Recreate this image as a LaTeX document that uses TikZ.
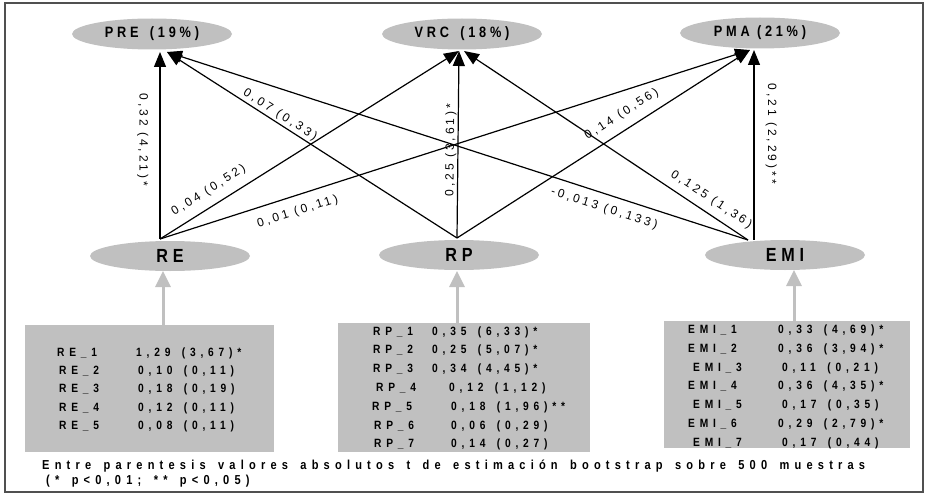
\documentclass[tikz,border=0pt]{standalone}
\usepackage{fontspec}
\setmainfont{Liberation Sans}
\usetikzlibrary{arrows.meta,shapes.geometric}
\newfontfamily\nodefnt[LetterSpace=25,FakeStretch=0.85]{Liberation Sans}
\newfontfamily\boxfnt[LetterSpace=40,FakeStretch=0.85]{Liberation Sans}
\newfontfamily\footfnt[LetterSpace=40,FakeStretch=0.85,WordSpace=1.5]{Liberation Sans}
\newfontfamily\lblfnt[LetterSpace=25]{Liberation Sans}
\definecolor{fillgray}{RGB}{192,192,192}
\definecolor{framecol}{RGB}{80,80,80}
\tikzset{
  topell/.style={ellipse, fill=fillgray, minimum width=160pt, minimum height=31pt, inner sep=0pt, font=\nodefnt\bfseries\fontsize{15pt}{15pt}\selectfont},
  botell/.style={ellipse, fill=fillgray, minimum width=160pt, minimum height=30pt, inner sep=0pt, font=\nodefnt\bfseries\fontsize{19pt}{19pt}\selectfont},
  pathA/.style={draw, line width=1.2pt, -{Triangle[length=15pt,width=12pt]}},
  pathR/.style={draw, line width=1.2pt, {Triangle[length=15pt,width=12pt]}-},
  garrow/.style={draw=fillgray, line width=3pt, -{Triangle[length=16pt,width=15pt]}},
  lbl/.style={font=\lblfnt\fontsize{12pt}{12pt}\selectfont, inner sep=1pt, sloped},
  boxst/.style={fill=fillgray, inner sep=0pt, anchor=north west},
  btxt/.style={font=\boxfnt\bfseries\fontsize{12pt}{12pt}\selectfont, inner sep=0pt, anchor=base west},
  ftxt/.style={font=\footfnt\bfseries\fontsize{13pt}{13pt}\selectfont, inner sep=0pt, anchor=base west}
}
\begin{document}
\begin{tikzpicture}[x=1pt,y=-1pt]
\useasboundingbox (0,0) rectangle (927,495);
\draw[line width=1.5pt, framecol] (5,3) rectangle (923,492);

% construct nodes
\node[topell] (PRE) at (152,34) {PRE\hspace{4pt} (19\%)};
\node[topell] (VRC) at (462,34) {VRC\hspace{4pt} (18\%)};
\node[topell] (PMA) at (760,33) {PMA (21\%)};
\node[botell] (RE) at (170,256) {RE};
\node[botell] (RP) at (459,255) {RP};
\node[botell] (EMI) at (785,255) {EMI};

% connection points
\coordinate (reS) at (160,239);
\coordinate (rpS) at (457,238);
\coordinate (emiS) at (748,240);
\coordinate (emiV) at (754,240);
\coordinate (preV) at (160,52);
\coordinate (preD) at (167,52);
\coordinate (vrcL) at (459,51);
\coordinate (vrcV) at (459,51);
\coordinate (vrcR) at (464,51);
\coordinate (pmaD) at (750,50);
\coordinate (pmaV) at (754,50);

% paths
\draw[pathR] (preV) -- node[lbl, below=10pt, pos=0.47] {0,32 (4,21)*} (reS);
\draw[pathR] (preD) -- node[lbl, above=1pt, pos=0.375] {0,07 (0,33)} (rpS);
\draw[pathR] (preD) -- node[lbl, below=7pt, pos=0.76] {-0,013 (0,133)} (emiS);
\draw[pathA] (reS) -- node[lbl, above=8pt, pos=0.19] {0,04 (0,52)} (vrcL);
\draw[pathR] (vrcV) -- node[lbl, above=0pt, pos=0.53] {0,25 (3,61)*} (rpS);
\draw[pathR] (vrcR) -- node[lbl, above=6pt, pos=0.845] {0,125 (1,36)} (emiS);
\draw[pathA] (reS) -- node[lbl, below=9pt, pos=0.225] {0,01 (0,11)} (pmaD);
\draw[pathA] (rpS) -- node[lbl, above=8pt, pos=0.59] {0,14 (0,56)} (pmaD);
\draw[pathR] (pmaV) -- node[lbl, above=10pt, pos=0.44] {0,21 (2,29)**} (emiV);

% indicator boxes
\node[boxst, minimum width=249pt, minimum height=127pt] (rebox) at (25,325) {};
\node[boxst, minimum width=252pt, minimum height=129pt] (rpbox) at (338,323) {};
\node[boxst, minimum width=246pt, minimum height=127pt] (emibox) at (664,321) {};

\coordinate (reIn) at (163,271);
\coordinate (rpIn) at (457,271);
\coordinate (emiIn) at (794,270);
\draw[garrow] (reIn |- rebox.north) -- (reIn);
\draw[garrow] (rpIn |- rpbox.north) -- (rpIn);
\draw[garrow] (emiIn |- emibox.north) -- (emiIn);

% RE box rows
\node[btxt] (re1a) at (57,356) {RE\_1};  \node[btxt] (re1b) at (136,356) {1,29 (3,67)*};
\node[btxt] (re2a) at (59,374) {RE\_2};  \node[btxt] (re2b) at (138,374) {0,10 (0,11)};
\node[btxt] (re3a) at (59,392) {RE\_3};  \node[btxt] (re3b) at (138,392) {0,18 (0,19)};
\node[btxt] (re4a) at (59,411) {RE\_4};  \node[btxt] (re4b) at (138,411) {0,12 (0,11)};
\node[btxt] (re5a) at (59,429) {RE\_5};  \node[btxt] (re5b) at (138,429) {0,08 (0,11)};

% RP box rows
\node[btxt] (rp1a) at (373,335) {RP\_1};  \node[btxt] (rp1b) at (432,335) {0,35 (6,33)*};
\node[btxt] (rp2a) at (373,353) {RP\_2};  \node[btxt] (rp2b) at (432,353) {0,25 (5,07)*};
\node[btxt] (rp3a) at (373,372) {RP\_3};  \node[btxt] (rp3b) at (432,372) {0,34 (4,45)*};
\node[btxt] (rp4a) at (376,391) {RP\_4};  \node[btxt] (rp4b) at (449,391) {0,12 (1,12)};
\node[btxt] (rp5a) at (372,410) {RP\_5};  \node[btxt] (rp5b) at (451,410) {0,18 (1,96)**};
\node[btxt] (rp6a) at (374,429) {RP\_6};  \node[btxt] (rp6b) at (451,429) {0,06 (0,29)};
\node[btxt] (rp7a) at (374,447) {RP\_7};  \node[btxt] (rp7b) at (451,447) {0,14 (0,27)};

% EMI box rows
\node[btxt] (emi1a) at (688,333) {EMI\_1};  \node[btxt] (emi1b) at (778,333) {0,33 (4,69)*};
\node[btxt] (emi2a) at (688,352) {EMI\_2};  \node[btxt] (emi2b) at (778,352) {0,36 (3,94)*};
\node[btxt] (emi3a) at (693,371) {EMI\_3};  \node[btxt] (emi3b) at (782,371) {0,11 (0,21)};
\node[btxt] (emi4a) at (688,389) {EMI\_4};  \node[btxt] (emi4b) at (778,389) {0,36 (4,35)*};
\node[btxt] (emi5a) at (693,408) {EMI\_5};  \node[btxt] (emi5b) at (782,408) {0,17 (0,35)};
\node[btxt] (emi6a) at (688,427) {EMI\_6};  \node[btxt] (emi6b) at (778,427) {0,29 (2,79)*};
\node[btxt] (emi7a) at (693,446) {EMI\_7};  \node[btxt] (emi7b) at (782,446) {0,17 (0,44)};

% footnote
\node[ftxt] (foot1) at (42,469) {Entre parentesis valores absolutos t de estimación bootstrap sobre 500 muestras};
\node[ftxt] (foot2) at (46,484) {(* p<0,01; ** p<0,05)};
\end{tikzpicture}
\end{document}
